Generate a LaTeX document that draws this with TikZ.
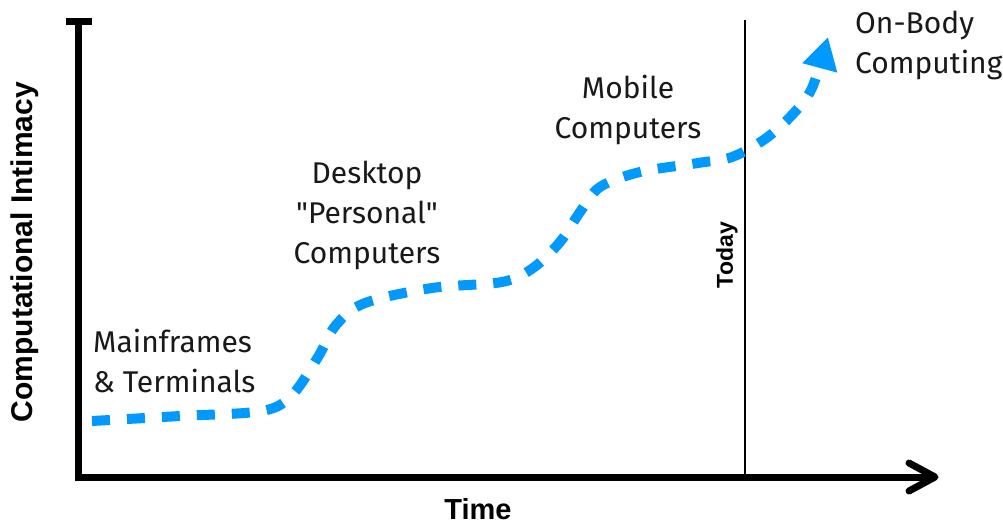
\documentclass[tikz,border=0pt]{standalone}
\usepackage{fontspec}
\setmainfont{Fira Sans}
\newfontfamily\boldsans{Liberation Sans}[UprightFont=*-Bold]
\usetikzlibrary{arrows.meta}
\definecolor{curveblue}{RGB}{0,153,255}
\tikzset{
  axis/.style={line width=7pt},
  era/.style={inner sep=0pt, font=\fontsize{30}{40}\selectfont, text=black!90},
  axislabel/.style={inner sep=0pt, font=\boldsans\fontsize{30}{32}\selectfont},
  trend/.style={curveblue, line width=10pt, dash pattern=on 18pt off 17pt,
    -{Triangle[length=32pt,width=34pt]}}
}
\begin{document}
\begin{tikzpicture}[x=1pt,y=-1pt]
\useasboundingbox (0,0) rectangle (1003,526);
\coordinate (top) at (78,22);
\coordinate (origin) at (78,477);
\coordinate (xend) at (935,477);
\coordinate (todaytop) at (745,20);
\coordinate (todaybot) at (745,477);
% axes
\draw[axis] (top) -- (origin) -- (xend);
\draw[axis] (66,22) -- (92,22);
\draw[line width=7pt, line cap=round, line join=round] (909,463) -- (xend) -- (909,491);
\draw[line width=2.5pt] (todaytop) -- (todaybot);
% curve
\draw[trend] plot[smooth, tension=0.55] coordinates {
  (92,421) (180,416) (262,411) (292,395) (318,357) (336,325) (365,303)
  (432,288) (502,282) (533,268) (560,242) (580,212) (600,187) (640,172)
  (698,163) (732,157) (765,139) (792,115) (812,88) (828,37)};
% labels
\node[era, align=left, anchor=base west] (main) at (93,392) {Mainframes\\\& Terminals};
\node[era, align=center, anchor=base] (desk) at (367,264) {Desktop\\\textquotedbl Personal\textquotedbl\\Computers};
\node[era, align=center, anchor=base] (mob) at (628,139) {Mobile\\Computers};
\node[era, align=left, anchor=base west] (body) at (855,74) {On-Body\\Computing};
\node[axislabel, font=\boldsans\fontsize{29}{31}\selectfont] (time) at (478,509) {Time};
\node[axislabel, rotate=90] (ylab) at (25,252) {Computational Intimacy};
\node[inner sep=0pt, font=\boldsans\fontsize{23}{25}\selectfont, rotate=90] (today) at (727,255) {Today};
\end{tikzpicture}
\end{document}
